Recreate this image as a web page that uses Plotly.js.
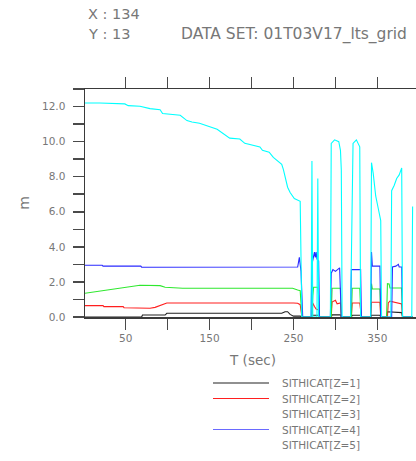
<!DOCTYPE html>
<html>
<head>
<meta charset="utf-8">
<script src="https://cdn.plot.ly/plotly-3.0.1.min.js"></script>
<style>
  html, body { margin: 0; padding: 0; overflow: hidden; background: #fff; }
  #chart { width: 440px; height: 461px; }
</style>
</head>
<body>
<div id="chart"></div>
<script>
// Ice thickness per category (SITHICAT) at one grid point, time in seconds.
const tZ1 = [1,69,70,97,99,236,240,243,246,250,258,260, 271,272,280,281, 295,296,306,307, 319,320,330,331, 342,343,353,354, 361,362,379,380, 392];
const valZ1 = [0,0,0.11,0.11,0.21,0.21,0.3,0.3,0.15,0.05,0.05,0, 0,0.1,0.1,0, 0,0.12,0.12,0, 0,0.1,0.1,0, 0,0.1,0.1,0, 0,0.3,0.25,0, 0];

const tZ2 = [1,23,24,47,48,67,68,79,85,92,99,250,255,258,260, 272,273,275,277,280,281, 295,296,300,302,306,307, 319,320,329,331, 342,343,353,354, 362,363,365,370,375,379,380, 392];
const valZ2 = [0.65,0.65,0.59,0.59,0.53,0.53,0.5,0.5,0.55,0.68,0.8,0.8,0.78,0.7,0, 0,0.8,0.6,0.45,0.4,0, 0,0.85,0.95,0.75,0.8,0, 0,0.8,0.8,0, 0,0.84,0.84,0, 0,0.8,0.9,0.85,0.8,0.75,0, 0];

const tZ3 = [1,23,43,52,67,91,97,118,249,255,258,260, 272,273,274,279,280,281, 295,296,306,307, 319,320,329,330,331, 342,343,344,353,354, 361,362,364,365,379,380, 392];
const valZ3 = [1.35,1.5,1.64,1.73,1.81,1.79,1.7,1.64,1.64,1.54,1.5,0, 0,1.2,1.7,1.7,1.2,0, 0,1.64,1.64,0, 0,1.64,1.64,0.5,0, 0,1.9,1.6,1.6,0, 0,1.9,1.88,1.65,1.65,0, 0];

const tZ4 = [1,22,23,68,69,115,116,248,255,257,259,261, 271,272,274,275,276,277,278,280,281, 294,295,297,300,303,305,307, 318,319,330,331, 342,343,344,353,354, 367,368,372,375,376,379,380, 392];
const valZ4 = [2.95,2.95,2.9,2.9,2.84,2.84,2.88,2.88,2.85,3.4,2.6,0, 0,3.0,3.5,3.7,3.4,3.7,3.3,3.2,0, 0,2.5,2.7,2.6,2.7,2.8,0, 0,2.7,2.7,0, 0,3.7,2.9,2.9,0, 0,2.85,2.9,3.0,2.85,2.85,0, 0];

const tZ5 = [1,19,49,53,67,79,91,94,115,123,129,138,159,162,174,186,192,210,213,221,226,236,238,243,246,251,258,260, 271,272,273,278,279,280, 294,295,297,299,304,306,307,308, 318,319,321,323,325,327,329,330, 342,343,345,348,349,351,354,355, 366,367,370,373,376,378,379,380, 391,392];
const valZ5 = [12.2,12.2,12.15,12.05,12.02,11.88,11.82,11.6,11.5,11.2,11.12,11.05,10.7,10.6,10.2,10.15,9.9,9.7,9.5,9.4,9.1,8.7,8.4,7.4,7.1,6.75,6.6,0, 0,8.9,0,0,7.9,0, 0,9.9,10.0,10.1,10.0,9.5,8.4,0, 0,4.6,9.9,10.0,10.1,9.9,9.7,0, 0,8.8,8.2,6.9,6.7,6.2,5.5,0, 0,7.2,7.5,7.9,8.1,8.45,8.5,0, 0,6.3];

const seriesNames = ['SITHICAT[Z=1]','SITHICAT[Z=2]','SITHICAT[Z=3]','SITHICAT[Z=4]','SITHICAT[Z=5]'];

const xTickVals = [50,100,150,200,250,300,350,400];
const xTickText = ['50','','150','','250','','350',''];
const yTickVals = [0,1,2,3,4,5,6,7,8,9,10,11,12,13];
const yTickText = ['0.0','','2.0','','4.0','','6.0','','8.0','','10.0','','12.0',''];

// styling
const lineColors = ['#222222','#ff1f1f','#2fe82f','#2a2aff','#00ffff'];
const legendLineColors = ['#222222','#ff1f1f',null,'#6a6aff',null];
const textGray = '#777777';
const FONT = 'DejaVu Sans, sans-serif';

const W = 440, H = 461;
const M = {l: 85, r: 19, t: 89, b: 144};
const plotW = W - M.l - M.r, plotH = H - M.t - M.b;
const px2x = px => (px - M.l) / plotW;
const py2y = py => (H - M.b - py) / plotH;

const ts = [tZ1, tZ2, tZ3, tZ4, tZ5];
const vs = [valZ1, valZ2, valZ3, valZ4, valZ5];
const traces = ts.map((t, i) => ({
  type: 'scatter', mode: 'lines',
  x: t, y: vs[i], name: seriesNames[i],
  line: {color: lineColors[i], width: 1.1},
  showlegend: false, hoverinfo: 'skip'
}));

const annotations = [
  {text: 'X : 134', x: px2x(86), y: py2y(14), xanchor: 'left', yanchor: 'middle'},
  {text: 'Y : 13', x: px2x(86), y: py2y(34), xanchor: 'left', yanchor: 'middle'},
  {text: 'DATA SET: 01T03V17_lts_grid', x: px2x(179), y: py2y(34), xanchor: 'left', yanchor: 'middle', font: {family: FONT, size: 15.5, color: textGray}}
].map(a => Object.assign({xref: 'paper', yref: 'paper', showarrow: false,
  font: {family: FONT, size: 14.5, color: textGray}}, a));

const shapes = [];
const legendRows = [383, 398.5, 414, 429.5, 445];
seriesNames.forEach((name, i) => {
  const yy = py2y(legendRows[i]);
  annotations.push({xref: 'paper', yref: 'paper', x: px2x(280), y: yy,
    xanchor: 'left', yanchor: 'middle', showarrow: false, text: name,
    font: {family: FONT, size: 10.5, color: textGray}});
  if (legendLineColors[i]) {
    shapes.push({type: 'line', xref: 'paper', yref: 'paper',
      x0: px2x(213), x1: px2x(269), y0: yy, y1: yy,
      line: {color: legendLineColors[i], width: 1.1}});
  }
});

const axisCommon = {
  showline: true, linecolor: '#3a3a3a', linewidth: 1.5,
  ticks: 'outside', ticklen: 11, tickwidth: 1.5, tickcolor: '#4a4a4a',
  mirror: 'ticks', showgrid: false, zeroline: false, layer: 'below traces',
  tickfont: {family: FONT, size: 10.5, color: textGray}
};

const layout = {
  width: W, height: H, margin: M,
  paper_bgcolor: '#fff', plot_bgcolor: '#fff',
  showlegend: false,
  xaxis: Object.assign({}, axisCommon, {
    range: [1.5, 402], tickmode: 'array', tickvals: xTickVals, ticktext: xTickText,
    title: {text: 'T (sec)', standoff: 12, font: {family: FONT, size: 13.5, color: textGray}}
  }),
  yaxis: Object.assign({}, axisCommon, {
    range: [0, 13], tickmode: 'array', tickvals: yTickVals, ticktext: yTickText,
    ticklabelstandoff: 5,
    title: {text: 'm', standoff: 9, font: {family: FONT, size: 14, color: textGray}}
  }),
  annotations: annotations,
  shapes: shapes
};

Plotly.newPlot('chart', traces, layout, {staticPlot: true, displayModeBar: false});
</script>
</body>
</html>
